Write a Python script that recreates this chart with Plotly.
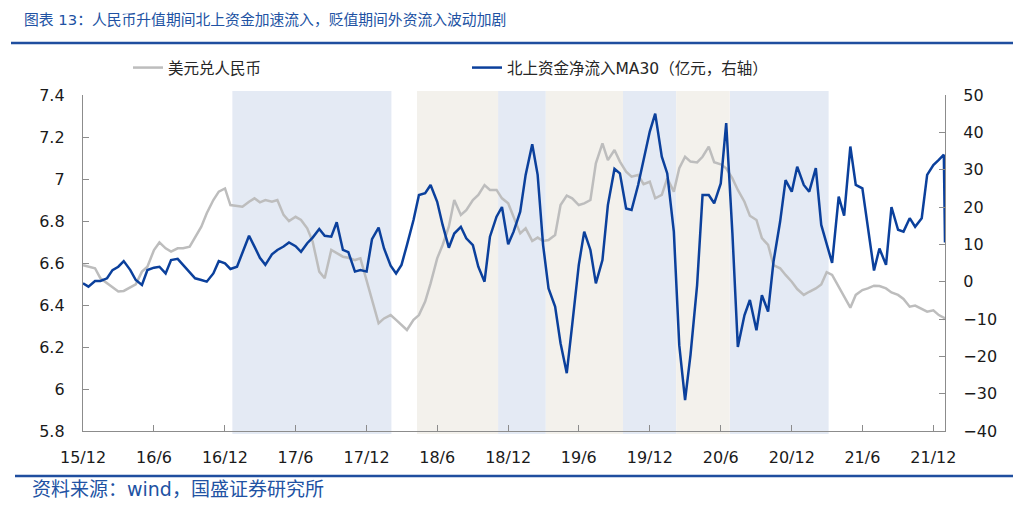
import pandas as pd
import plotly.graph_objects as go

# ---------------- data ----------------
dates = list(pd.date_range("2015-12-01", "2021-12-15", freq="SMS").strftime("%Y-%m-%d")) + ["2021-12-28", "2021-12-31"]

usdcny = [
    6.590, 6.582, 6.575, 6.527, 6.503, 6.487, 6.464, 6.467, 6.483, 6.498, 6.559, 6.582,
    6.662, 6.698, 6.670, 6.654, 6.670, 6.670, 6.678, 6.725, 6.773, 6.837, 6.900, 6.940,
    6.955, 6.876, 6.873, 6.868, 6.892, 6.908, 6.889, 6.900, 6.892, 6.900, 6.829, 6.800,
    6.820, 6.805, 6.765, 6.702, 6.559, 6.527, 6.662, 6.646, 6.630, 6.625, 6.614, 6.622,
    6.519, 6.432, 6.313, 6.336, 6.352, 6.329, 6.305, 6.281, 6.329, 6.352, 6.416, 6.503,
    6.622, 6.686, 6.773, 6.900, 6.829, 6.852, 6.900, 6.924, 6.971, 6.948, 6.948, 6.908,
    6.884, 6.821, 6.741, 6.765, 6.705, 6.721, 6.705, 6.709, 6.733, 6.876, 6.921, 6.908,
    6.876, 6.884, 6.900, 7.075, 7.170, 7.090, 7.138, 7.083, 7.035, 7.011, 7.019, 6.975,
    6.987, 6.908, 6.924, 7.003, 6.940, 7.051, 7.106, 7.083, 7.079, 7.106, 7.154, 7.080,
    7.070, 7.051, 7.003, 6.948, 6.892, 6.825, 6.805, 6.718, 6.686, 6.590, 6.575, 6.543,
    6.511, 6.476, 6.448, 6.463, 6.479, 6.498, 6.556, 6.543, 6.487, 6.440, 6.387, 6.448,
    6.471, 6.479, 6.492, 6.490, 6.479, 6.460, 6.448, 6.429, 6.392, 6.397, 6.381, 6.368,
    6.375, 6.352, 6.340, 6.330,
]

northbound_ma30 = [
    -0.45, -1.34, 0.18, 0.18, 0.9, 3.1, 4.0, 5.5, 3.1, 0.45, -0.9, 3.1,
    3.75, 4.0, 2.2, 5.8, 6.1, 4.5, 2.7, 0.9, 0.45, 0.0, 2.2, 5.5,
    4.9, 3.4, 4.0, 8.0, 12.3, 9.4, 6.4, 4.5, 7.3, 8.5, 9.4, 10.5,
    9.5, 8.0, 10.3, 11.8, 14.1, 12.3, 12.05, 15.9, 8.5, 7.9, 2.7, 3.1,
    2.7, 11.4, 14.5, 8.9, 4.3, 2.2, 4.5, 9.8, 16.5, 23.2, 23.7, 25.9,
    21.4, 15.2, 9.1, 12.9, 14.7, 11.6, 9.8, 4.0, 0.0, 12.05, 17.4, 20.0,
    10.0, 13.4, 18.75, 28.6, 36.8, 28.6, 9.8, -1.8, -6.7, -16.5, -24.5, -11.6,
    4.5, 13.4, 8.5, -0.45, 5.8, 20.5, 30.2, 29.0, 19.6, 19.2, 25.9, 32.6,
    40.2, 45.0, 33.5, 29.0, 13.4, -17.0, -31.7, -19.6, -0.9, 23.2, 23.2, 21.0,
    26.3, 42.5, 12.95, -17.5, -9.0, -4.9, -13.0, -3.6, -8.0, 5.4, 16.1, 27.2,
    24.1, 30.8, 25.9, 24.1, 30.4, 15.2, 10.0, 5.0, 22.8, 17.7, 36.2, 25.9,
    25.0, 14.3, 3.0, 8.9, 4.5, 20.0, 13.9, 13.4, 17.0, 14.7, 17.0, 28.6,
    31.25, 32.6, 34.0, 10.5,
]
assert len(dates) == len(usdcny) == len(northbound_ma30)

tick_dates = ["2015-12-01", "2016-06-01", "2016-12-01", "2017-06-01", "2017-12-01", "2018-06-01",
              "2018-12-01", "2019-06-01", "2019-12-01", "2020-06-01", "2020-12-01", "2021-06-01",
              "2021-12-01"]
tick_labels = ["15/12", "16/6", "16/12", "17/6", "17/12", "18/6", "18/12", "19/6", "19/12",
               "20/6", "20/12", "21/6", "21/12"]

appreciation_periods = [("2016-12-20", "2018-02-03"), ("2018-11-05", "2019-03-08"),
                        ("2019-09-23", "2020-02-07"), ("2020-06-24", "2021-03-06")]
depreciation_periods = [("2018-04-10", "2018-11-05"), ("2019-03-08", "2019-09-23"),
                        ("2020-02-07", "2020-06-24")]

title_text = "图表 13：人民币升值期间北上资金加速流入，贬值期间外资流入波动加剧"
source_text = "资料来源：wind，国盛证券研究所"
name_fx = "美元兑人民币"
name_flow = "北上资金净流入MA30（亿元，右轴）"

# ---------------- style ----------------
W, H = 1025, 508
L, R, T, B = 83, 945, 95, 431
pw, ph = R - L, B - T
def px(x):
    return (x - L) / pw
def py(y):
    return (B - y) / ph

FONT = "DejaVu Sans, Noto Sans CJK SC, sans-serif"
BLUE_TXT = "#2152A3"
GRAY_LINE = "#BDBDBD"
BLUE_LINE = "#0B409C"
AXIS = "#8C8C8C"

fig = go.Figure()
fig.add_trace(go.Scatter(x=dates, y=usdcny, name=name_fx, mode="lines",
                         line=dict(color=GRAY_LINE, width=2.5), yaxis="y", legend="legend"))
fig.add_trace(go.Scatter(x=dates, y=northbound_ma30, name=name_flow, mode="lines",
                         line=dict(color=BLUE_LINE, width=2.5), yaxis="y2", legend="legend2"))

shapes = []
for a, b in appreciation_periods:
    shapes.append(dict(type="rect", xref="x", yref="paper", x0=a, x1=b, y0=py(434), y1=py(91),
                       fillcolor="#E4EAF4", line=dict(width=0), layer="below"))
for a, b in depreciation_periods:
    shapes.append(dict(type="rect", xref="x", yref="paper", x0=a, x1=b, y0=py(434), y1=py(91),
                       fillcolor="#F3F1EC", line=dict(width=0), layer="below"))
shapes.append(dict(type="line", xref="paper", yref="paper", x0=px(11), x1=px(1013), y0=py(43), y1=py(43),
                   line=dict(color="#1F4E9F", width=2.5)))
shapes.append(dict(type="line", xref="paper", yref="paper", x0=px(15), x1=px(1013), y0=py(476), y1=py(476),
                   line=dict(color="#1F4E9F", width=2.5)))

fig.update_layout(
    width=W, height=H,
    margin=dict(l=L, r=W - R, t=T, b=H - B, pad=0),
    paper_bgcolor="white", plot_bgcolor="white",
    font=dict(family=FONT, size=16, color="#1A1A1A"),
    showlegend=True,
    shapes=shapes,
    xaxis=dict(type="date", range=["2015-12-01", "2021-12-31"], tickvals=tick_dates, ticktext=tick_labels,
               showgrid=False, zeroline=False, showline=True, linecolor=AXIS, linewidth=1.3,
               ticks="inside", ticklen=6, tickcolor=AXIS, tickwidth=1.3, ticklabelstandoff=12,
               tickfont=dict(size=16)),
    yaxis=dict(range=[5.8, 7.4], tickvals=[5.8, 6.0, 6.2, 6.4, 6.6, 6.8, 7.0, 7.2, 7.4],
               showgrid=False, zeroline=False, showline=True, linecolor=AXIS, linewidth=1.3,
               ticks="inside", ticklen=6, tickcolor=AXIS, tickwidth=1.3, ticklabelstandoff=14,
               tickfont=dict(size=16)),
    yaxis2=dict(range=[-40, 50], dtick=10, overlaying="y", side="right",
                showgrid=False, zeroline=False, showline=True, linecolor=AXIS, linewidth=1.3,
                ticks="inside", ticklen=6, tickcolor=AXIS, tickwidth=1.3, ticklabelstandoff=14,
                tickfont=dict(size=16)),
    legend=dict(orientation="h", x=px(128), xanchor="left", y=py(68), yanchor="middle",
                bgcolor="rgba(0,0,0,0)", font=dict(size=15.5, color="#262626")),
    legend2=dict(orientation="h", x=px(467), xanchor="left", y=py(68), yanchor="middle",
                 bgcolor="rgba(0,0,0,0)", font=dict(size=15.5, color="#262626")),
    annotations=[
        dict(text=title_text, xref="paper", yref="paper", x=px(22), y=py(20), xanchor="left",
             yanchor="middle", showarrow=False, font=dict(size=14.8, color=BLUE_TXT)),
        dict(text=source_text, xref="paper", yref="paper", x=px(30), y=py(489), xanchor="left",
             yanchor="middle", showarrow=False, font=dict(size=19, color=BLUE_TXT)),
    ],
)

fig.write_html("out.html")
